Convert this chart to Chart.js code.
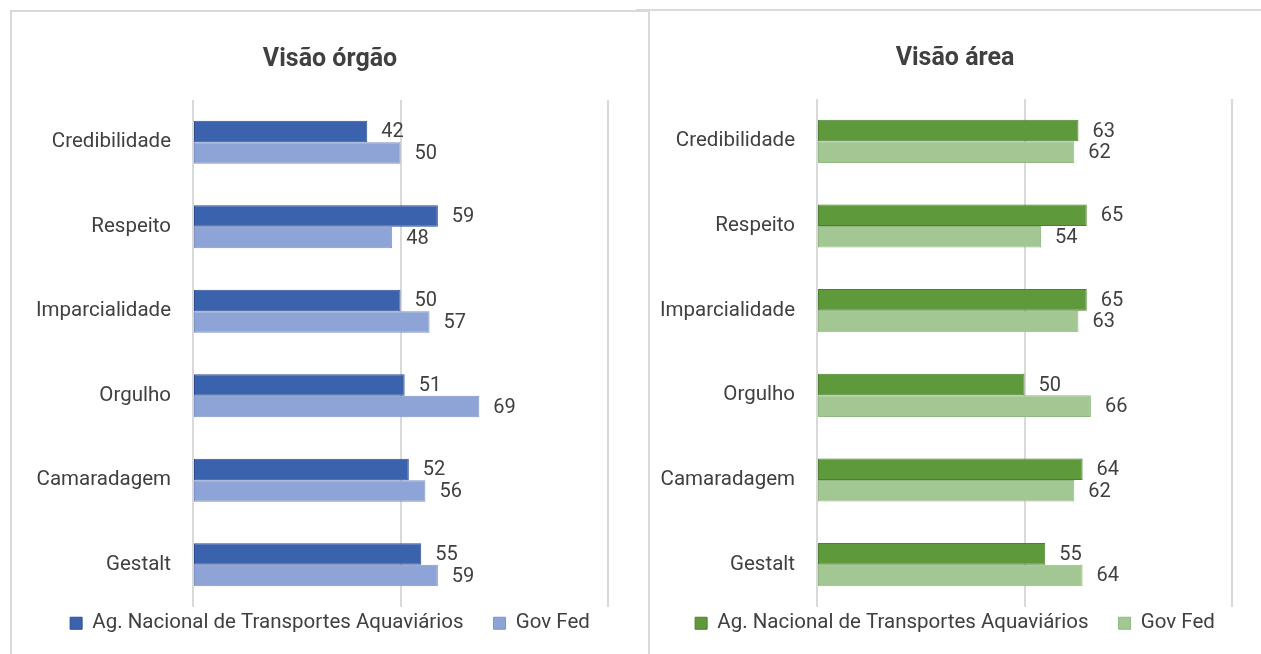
<!DOCTYPE html>
<html>
<head>
<meta charset="utf-8">
<script src="https://cdn.jsdelivr.net/npm/chart.js@4.4.1/dist/chart.umd.min.js"></script>
<style>
  html, body { margin: 0; padding: 0; background: #ffffff; }
  body { width: 1261px; height: 654px; position: relative; overflow: hidden; }
  .line { position: absolute; background: #D9D9D9; }
  .wrap { position: absolute; }
</style>
</head>
<body>
<div class="line" style="left:10px; top:10px; width:640px; height:2px;"></div>
<div class="line" style="left:10px; top:10px; width:2px; height:644px;"></div>
<div class="line" style="left:636px; top:9px; width:625px; height:2px;"></div>
<div class="line" style="left:648px; top:9px; width:2px; height:645px;"></div>
<div class="wrap" style="left:12px; top:12px; width:636px; height:642px;"><canvas id="c1"></canvas></div>
<div class="wrap" style="left:650px; top:11px; width:611px; height:643px;"><canvas id="c2"></canvas></div>
<script>
const categories = ["Credibilidade", "Respeito", "Imparcialidade", "Orgulho", "Camaradagem", "Gestalt"];
const seriesNames = ["Ag. Nacional de Transportes Aquaviários", "Gov Fed"];
const orgaoAgencia = [42, 59, 50, 51, 52, 55];
const orgaoGovFed = [50, 48, 57, 69, 56, 59];
const areaAgencia = [63, 65, 65, 50, 64, 55];
const areaGovFed = [62, 54, 63, 66, 62, 64];
const xTicks = [0, 50, 100];

const FONT = "Roboto, 'Liberation Sans', sans-serif";
const TEXT = "#404040";

const valueLabels = {
  id: 'valueLabels',
  afterDatasetsDraw(chart) {
    const ctx = chart.ctx;
    ctx.save();
    ctx.font = "20px " + FONT;
    ctx.fillStyle = TEXT;
    ctx.textAlign = 'left';
    ctx.textBaseline = 'middle';
    chart.data.datasets.forEach((ds, di) => {
      const meta = chart.getDatasetMeta(di);
      meta.data.forEach((bar, i) => {
        ctx.fillText(String(ds.data[i]), bar.x + 14, bar.y + 1);
      });
    });
    ctx.restore();
  }
};

// keep the legend on one row, centre title and legend over a chosen span, lift the legend row
const boxAdjust = {
  id: 'boxAdjust',
  beforeLayout(chart) {
    const lg = chart.legend;
    if (lg && !lg._oneRow) {
      const orig = lg.update.bind(lg);
      lg.update = (mw, mh, m) => orig(mw + 300, mh, m);
      lg._oneRow = true;
    }
  },
  afterLayout(chart, args, opts) {
    const lg = chart.legend, tt = chart.titleBlock;
    if (tt) { tt.left = opts.left; }
    if (lg) {
      lg.left = opts.left - 80;
      lg.right = lg.right + 80;
      lg.top -= opts.shift;
    }
  }
};

function makeChart(id, title, a, b, colA, borA, colB, borB, spanLeft, padR, yWidth) {
  return new Chart(document.getElementById(id), {
    type: 'bar',
    data: {
      labels: categories,
      datasets: [
        { label: seriesNames[0], data: a, backgroundColor: colA, borderColor: borA, borderWidth: 1, borderSkipped: false },
        { label: seriesNames[1], data: b, backgroundColor: colB, borderColor: borB, borderWidth: 1, borderSkipped: false }
      ]
    },
    options: {
      indexAxis: 'y',
      responsive: true,
      maintainAspectRatio: false,
      animation: false,
      events: [],
      datasets: { bar: { barPercentage: 1.0, categoryPercentage: 0.51 } },
      layout: { padding: { left: 0, right: padR, top: 0, bottom: 0 } },
      scales: {
        x: {
          min: 0, max: 100,
          afterBuildTicks(scale) { scale.ticks = xTicks.map(v => ({ value: v })); },
          ticks: { display: false },
          grid: { color: '#D9D9D9', lineWidth: 2, drawTicks: false },
          border: { display: false }
        },
        y: {
          afterFit(scale) { scale.width = yWidth; },
          ticks: { color: TEXT, font: { family: FONT, size: 20.5 }, padding: 22 },
          grid: { display: false, drawTicks: false },
          border: { display: false }
        }
      },
      plugins: {
        title: {
          display: true, text: title, color: TEXT,
          font: { family: FONT, size: 25, weight: 'bold' },
          padding: { top: 33, bottom: 25 }
        },
        legend: {
          display: true, position: 'bottom', maxHeight: 47,
          labels: { color: TEXT, font: { family: FONT, size: 20.5 }, boxWidth: 12, boxHeight: 12, padding: 30 }
        },
        boxAdjust: { shift: 24, left: spanLeft },
        tooltip: { enabled: false }
      }
    },
    plugins: [valueLabels, boxAdjust]
  });
}

makeChart('c1', 'Visão órgão', orgaoAgencia, orgaoGovFed, '#3B62AD', '#2E4F8F', '#8FA4D6', '#7D93C8', 40, 40, 181);
makeChart('c2', 'Visão área', areaAgencia, areaGovFed, '#5E9A3C', '#4C7F30', '#A3C792', '#92B882', 28, 29, 167);
</script>
</body>
</html>
